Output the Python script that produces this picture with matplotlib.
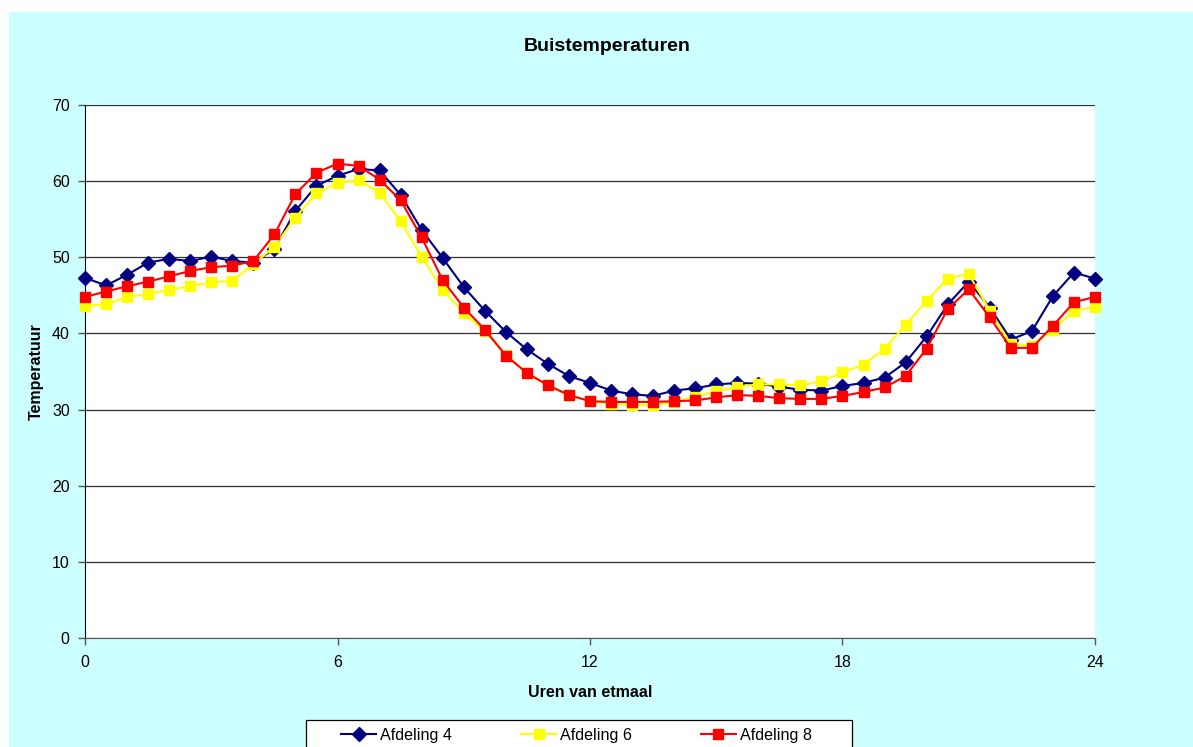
import matplotlib
matplotlib.use("Agg")
import matplotlib.pyplot as plt
from matplotlib.patches import Rectangle

plt.rcParams['font.family'] = ['Liberation Sans', 'DejaVu Sans']

hours = [0, 0.5, 1, 1.5, 2, 2.5, 3, 3.5, 4, 4.5, 5, 5.5, 6, 6.5, 7, 7.5, 8, 8.5,
         9, 9.5, 10, 10.5, 11, 11.5, 12, 12.5, 13, 13.5, 14, 14.5, 15, 15.5, 16,
         16.5, 17, 17.5, 18, 18.5, 19, 19.5, 20, 20.5, 21, 21.5, 22, 22.5, 23,
         23.5, 24]

afd4 = [47.3, 46.3, 47.7, 49.3, 49.8, 49.5, 50.1, 49.5, 49.3, 51.1, 56.1, 59.4,
        60.7, 61.6, 61.4, 58.2, 53.6, 49.9, 46.1, 43.0, 40.2, 37.9, 36.0, 34.4,
        33.5, 32.5, 32.0, 31.8, 32.5, 32.8, 33.3, 33.5, 33.4, 33.0, 32.6, 32.5,
        33.1, 33.5, 34.2, 36.2, 39.6, 43.8, 46.8, 43.4, 39.2, 40.3, 44.9, 48.0,
        47.2]
afd6 = [43.6, 43.8, 44.8, 45.2, 45.7, 46.2, 46.7, 46.9, 49.1, 51.4, 55.2, 58.4,
        59.8, 60.1, 58.5, 54.7, 50.1, 45.7, 42.7, 40.3, 37.2, 34.8, 33.2, 31.9,
        31.1, 30.7, 30.6, 30.6, 31.0, 31.7, 32.4, 33.0, 33.3, 33.3, 33.2, 33.7,
        34.9, 35.9, 38.0, 41.1, 44.3, 47.2, 47.8, 43.0, 38.6, 38.4, 40.5, 43.0,
        43.5]
afd8 = [44.8, 45.5, 46.2, 46.8, 47.5, 48.2, 48.7, 48.9, 49.5, 53.0, 58.3, 61.1,
        62.3, 62.0, 60.2, 57.5, 52.6, 47.0, 43.4, 40.5, 37.1, 34.8, 33.2, 31.9,
        31.1, 31.0, 31.0, 31.0, 31.1, 31.2, 31.6, 31.9, 31.8, 31.5, 31.4, 31.4,
        31.8, 32.3, 32.9, 34.4, 38.0, 43.2, 45.8, 42.1, 38.1, 38.1, 41.0, 44.1,
        44.8]

series_labels = ['Afdeling 4', 'Afdeling 6', 'Afdeling 8']
xticks = [0, 6, 12, 18, 24]
yticks = [0, 10, 20, 30, 40, 50, 60, 70]

W, H = 1193, 747
fig = plt.figure(figsize=(W / 100, H / 100), dpi=100, facecolor='white')

def px(x, y):
    return x / W, 1 - y / H

# cyan chart area, behind everything
fig.patches.append(Rectangle(px(9, 760), (W + 10 - 9) / W, (760 - 12) / H,
                             transform=fig.transFigure, facecolor='#CCFFFF',
                             edgecolor='none', zorder=-10))

ax = fig.add_axes([85 / W, 1 - 638 / H, 1010 / W, 533 / H])
ax.set_facecolor('white')

ax.plot(hours, afd4, color='#000080', lw=1.5, marker='D', ms=7.5,
        label=series_labels[0], clip_on=False, zorder=3)
ax.plot(hours, afd6, color='#FFFF00', lw=1.5, marker='s', ms=7,
        label=series_labels[1], clip_on=False, zorder=4)
ax.plot(hours, afd8, color='#FF0000', lw=1.5, marker='s', ms=7,
        label=series_labels[2], clip_on=False, zorder=5)

ax.set_xlim(0, 24)
ax.set_ylim(0, 70)
ax.set_xticks(xticks)
ax.set_yticks(yticks)
ax.yaxis.grid(True, color='#303030', lw=0.9)
ax.set_axisbelow(True)

for s in ['top', 'right']:
    ax.spines[s].set_visible(False)
ax.spines['left'].set_color('black')
ax.spines['bottom'].set_color('#555555')
ax.tick_params(axis='x', direction='out', length=5, width=1, color='#555555',
               labelsize=11.5, pad=7.5)
ax.tick_params(axis='y', direction='out', length=5, width=1, color='#555555',
               labelsize=11.5, pad=6)

tx, ty = px(607.5, 51)
fig.text(tx, ty, 'Buistemperaturen', ha='center', va='baseline',
         fontsize=14, fontweight='bold')
lx, ly = px(590, 697)
fig.text(lx, ly, 'Uren van etmaal', ha='center', va='baseline',
         fontsize=11.5, fontweight='bold')
yx, yy = px(36, 372)
fig.text(yx, yy, 'Temperatuur', ha='center', va='center', rotation=90,
         fontsize=11.5, fontweight='bold')

# legend box runs off the bottom edge
fig.patches.append(Rectangle(px(305.7, 770), (851.7 - 305.7) / W, (770 - 720) / H,
                             transform=fig.transFigure, facecolor='white',
                             edgecolor='black', lw=0.9, zorder=1))
handles, labels = ax.get_legend_handles_labels()
fig.legend(handles, labels, loc='upper left', bbox_to_anchor=px(341, 728),
           ncol=3, frameon=False, fontsize=11.6, borderpad=0, borderaxespad=0,
           handlelength=2.2, handletextpad=0.25, columnspacing=4.25)

fig.savefig('out.png', dpi=100, facecolor='white')
